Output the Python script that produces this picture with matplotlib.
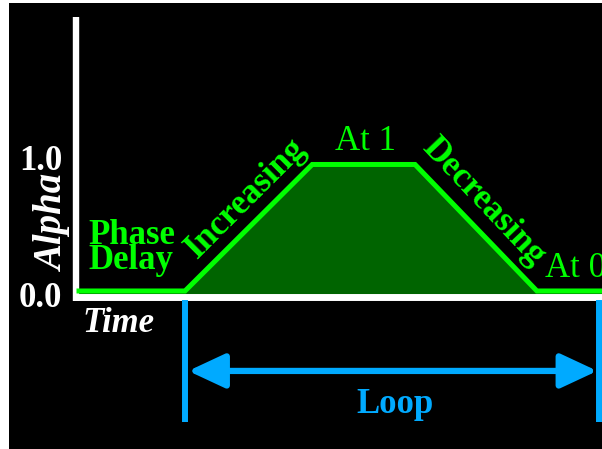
import matplotlib.pyplot as plt
from matplotlib.patches import Rectangle

plt.rcParams['font.family'] = ['Liberation Serif', 'DejaVu Serif']

# alpha envelope over time (1 unit ~ phase delay length)
time = [0.0, 1.0, 2.2, 3.17, 4.32, 4.97]
alpha = [0.0, 0.0, 1.0, 1.0, 0.0, 0.0]
loop_start = 1.0
loop_end = 4.91
ytick_vals = [1.0, 0.0]
ytick_labels = ['1.0', '0.0']

GREEN = '#00ff00'
DARK = '#006400'
BLUE = '#00aaff'
FS = 25

fig = plt.figure(figsize=(6.02, 4.49), dpi=100)
fig.patch.set_facecolor('white')
ax = fig.add_axes([0, 0, 1, 1])
ax.set_xlim(-0.7453, 4.934)
ax.set_ylim(-1.249, 2.300)
ax.axis('off')

# black panel
ax.add_patch(Rectangle((9 / 602, 0), 1, 446 / 449, transform=ax.transAxes,
                       facecolor='black', edgecolor='none', zorder=0))

axis_y = -0.047
# filled envelope
ax.fill_between(time, alpha, axis_y, color=DARK, lw=0, zorder=1)
ax.plot(time, alpha, color=GREEN, lw=3.6, solid_joinstyle='miter', zorder=3)

# white axes
ax.plot([-0.024, -0.024], [2.166, -0.079], color='white', lw=4.6,
        solid_capstyle='butt', zorder=2)
ax.plot([-0.057, 5.0], [axis_y, axis_y], color='white', lw=5.0,
        solid_capstyle='butt', zorder=2)

# tick labels
ax.text(-0.151, ytick_vals[0] - 0.043, ytick_labels[0], color='white', fontsize=FS,
        fontweight='bold', ha='right', va='baseline')
ax.text(-0.160, ytick_vals[1] - 0.126, ytick_labels[1], color='white', fontsize=FS,
        fontweight='bold', ha='right', va='baseline')
ax.text(-0.241, 0.538, 'Alpha', color='white', fontsize=28, fontweight='bold',
        fontstyle='italic', rotation=90, ha='center', va='center')
ax.text(0.368, -0.324, 'Time', color='white', fontsize=FS, fontweight='bold',
        fontstyle='italic', ha='center', va='baseline')

# phase labels
ax.text(0.085, 0.372, 'Phase', color=GREEN, fontsize=FS, fontweight='bold',
        ha='left', va='baseline')
ax.text(0.085, 0.174, 'Delay', color=GREEN, fontsize=FS, fontweight='bold',
        ha='left', va='baseline')
ax.text(1.632, 0.680, 'Increasing', color=GREEN, fontsize=FS, fontweight='bold',
        rotation=45, rotation_mode='anchor', ha='center', va='baseline')
ax.text(2.415, 1.115, 'At 1', color=GREEN, fontsize=FS, ha='left', va='baseline')
ax.text(3.76, 0.655, 'Decreasing', color=GREEN, fontsize=FS, fontweight='bold',
        rotation=-46.5, rotation_mode='anchor', ha='center', va='baseline')
ax.text(4.396, 0.111, 'At 0', color=GREEN, fontsize=FS, ha='left', va='baseline')

# loop marker
for x in (loop_start, loop_end):
    ax.plot([x, x], [-0.071, -1.036], color=BLUE, lw=4.3,
            solid_capstyle='butt', zorder=2)
ax.annotate('', xy=(loop_start + 0.03, -0.632), xytext=(loop_end - 0.02, -0.632),
            arrowprops=dict(arrowstyle='<|-|>,head_length=0.9,head_width=0.42',
                            color=BLUE, lw=4.5, mutation_scale=25,
                            shrinkA=0, shrinkB=0))
ax.text(2.981, -0.964, 'Loop', color=BLUE, fontsize=FS, fontweight='bold',
        ha='center', va='baseline')

fig.savefig('out.png', dpi=100, facecolor=fig.get_facecolor())
